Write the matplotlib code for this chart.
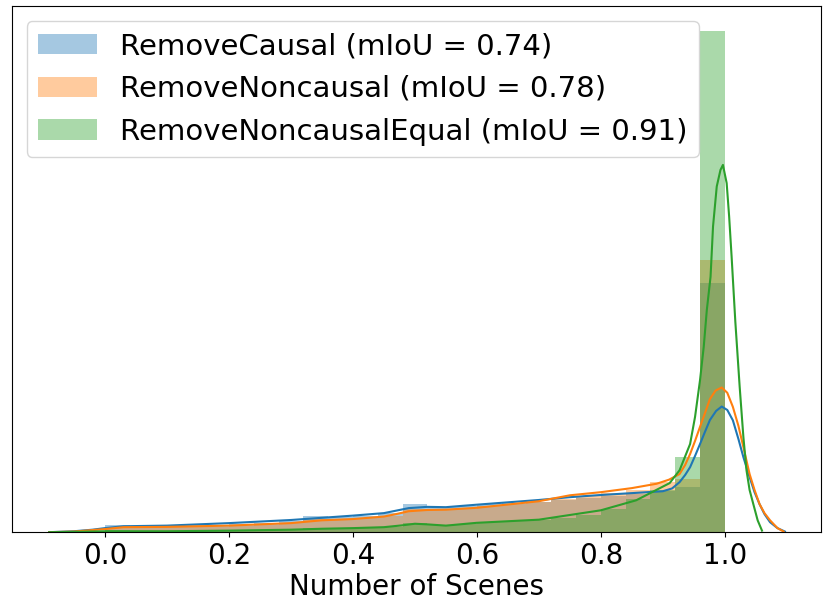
import numpy as np
import matplotlib
matplotlib.use("Agg")
import matplotlib.pyplot as plt

# histogram bins (25 bins of 0.04 between 0 and 1)
bin_edges = np.linspace(0, 1, 26)

# density per bin
causal_hist = [0.22, 0.21, 0.21, 0.22, 0.24, 0.27, 0.30, 0.35, 0.53, 0.48, 0.53, 0.61, 0.90,
               0.80, 0.83, 0.90, 0.93, 0.96, 1.03, 1.09, 1.15, 1.22, 1.31, 1.44, 7.98]
noncausal_hist = [0.13, 0.14, 0.16, 0.16, 0.18, 0.21, 0.24, 0.29, 0.42, 0.42, 0.45, 0.51, 0.74,
                  0.74, 0.74, 0.83, 0.90, 0.96, 1.06, 1.15, 1.25, 1.35, 1.60, 1.70, 8.72]
equal_hist = [0.06, 0.05, 0.05, 0.05, 0.05, 0.06, 0.06, 0.08, 0.13, 0.11, 0.13, 0.16, 0.29,
              0.22, 0.27, 0.32, 0.35, 0.38, 0.45, 0.54, 0.74, 1.06, 1.35, 2.40, 16.03]

# kde curves
causal_kde_x = [-0.09, -0.05, -0.02, 0.0, 0.03, 0.1, 0.2, 0.3, 0.35, 0.4, 0.45, 0.47, 0.49, 0.52,
                0.55, 0.6, 0.7, 0.75, 0.8, 0.85, 0.9, 0.915, 0.927, 0.936, 0.944, 0.952, 0.96,
                0.968, 0.976, 0.986, 0.995, 1.004, 1.013, 1.022, 1.03, 1.04, 1.048, 1.056,
                1.064, 1.073, 1.085, 1.097]
causal_kde_y = [0.0, 0.03, 0.08, 0.13, 0.19, 0.21, 0.29, 0.39, 0.46, 0.53, 0.61, 0.69, 0.77, 0.81,
                0.80, 0.88, 1.03, 1.12, 1.19, 1.25, 1.31, 1.40, 1.60, 1.83, 2.08, 2.44, 2.82,
                3.21, 3.59, 3.88, 4.02, 3.91, 3.58, 2.98, 2.40, 1.76, 1.28, 0.90,
                0.58, 0.32, 0.13, 0.02]

noncausal_kde_x = [-0.09, -0.05, 0.0, 0.03, 0.1, 0.2, 0.3, 0.35, 0.4, 0.45, 0.47, 0.49, 0.52, 0.55,
                   0.6, 0.7, 0.75, 0.8, 0.85, 0.89, 0.91, 0.927, 0.936, 0.944, 0.952, 0.96, 0.968,
                   0.976, 0.985, 0.995, 1.004, 1.013, 1.022, 1.03, 1.04, 1.048, 1.056, 1.064,
                   1.073, 1.085, 1.095]
noncausal_kde_y = [0.0, 0.02, 0.10, 0.16, 0.17, 0.21, 0.29, 0.38, 0.42, 0.50, 0.58, 0.67, 0.71, 0.72,
                   0.78, 0.99, 1.18, 1.28, 1.41, 1.55, 1.68, 1.86, 2.15, 2.50, 2.92, 3.37, 3.81,
                   4.26, 4.53, 4.63, 4.46, 4.01, 3.40, 2.72, 1.86, 1.35, 0.90, 0.61,
                   0.38, 0.13, 0.02]

equal_kde_x = [-0.09, -0.05, 0.0, 0.1, 0.2, 0.3, 0.35, 0.4, 0.45, 0.48, 0.5, 0.52, 0.55, 0.6, 0.7,
               0.8, 0.857, 0.911, 0.927, 0.944, 0.952, 0.96, 0.966, 0.971, 0.977, 0.981, 0.987,
               0.993, 0.997, 1.003, 1.007, 1.011, 1.017, 1.024, 1.03, 1.035, 1.04, 1.046, 1.053,
               1.06]
equal_kde_y = [0.0, 0.01, 0.03, 0.03, 0.05, 0.08, 0.11, 0.13, 0.16, 0.22, 0.27, 0.25, 0.21, 0.30, 0.40,
               0.70, 1.02, 1.57, 1.98, 2.82, 3.69, 4.86, 5.93, 7.11, 8.17, 9.78, 11.06,
               11.59, 11.75, 11.17, 10.10, 8.81, 6.73, 4.65, 3.04, 1.98, 1.35, 0.90, 0.38,
               0.05]

labels = ["RemoveCausal (mIoU = 0.74)", "RemoveNoncausal (mIoU = 0.78)",
          "RemoveNoncausalEqual (mIoU = 0.91)"]
colors = ["#1f77b4", "#ff7f0e", "#2ca02c"]

fig = plt.figure(figsize=(8.3, 6.11), dpi=100)
ax = fig.add_axes([0.0145, 0.129, 0.9745, 0.861])

hists = [causal_hist, noncausal_hist, equal_hist]
kdes = [(causal_kde_x, causal_kde_y), (noncausal_kde_x, noncausal_kde_y),
        (equal_kde_x, equal_kde_y)]

for h, (kx, ky), c, lab in zip(hists, kdes, colors, labels):
    ax.bar(bin_edges[:-1], h, width=np.diff(bin_edges), align="edge",
           color=c, alpha=0.4, linewidth=0, label=lab)
    ax.plot(kx, ky, color=c, lw=1.5)

ax.set_xlim(-0.15, 1.155)
ax.set_ylim(0, max(equal_hist) * 1.05)
ax.set_yticks([])
ax.set_xticks([0.0, 0.2, 0.4, 0.6, 0.8, 1.0])
ax.tick_params(axis="x", labelsize=20)
ax.set_xlabel("Number of Scenes", fontsize=20, labelpad=2)
ax.legend(loc="upper left", fontsize=21)

fig.savefig("out.png", dpi=100)
